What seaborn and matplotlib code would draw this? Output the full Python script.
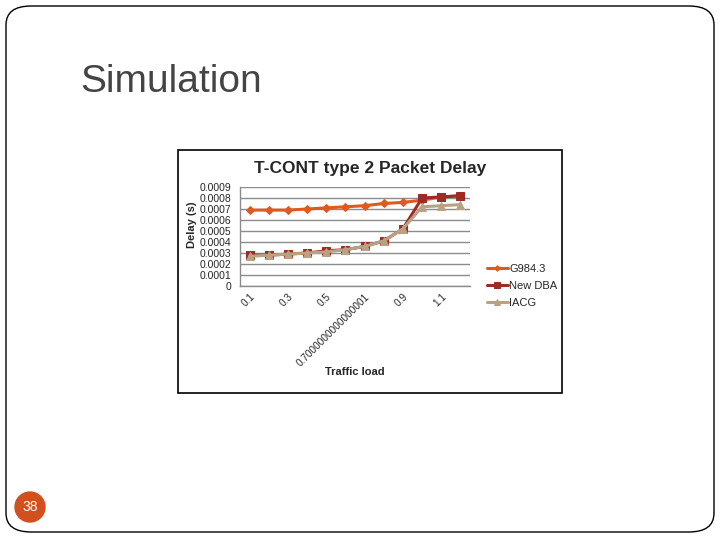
import numpy as np
import pandas as pd
import seaborn as sns
import matplotlib.pyplot as plt
from matplotlib.patches import FancyBboxPatch, Rectangle, Ellipse

# data
load_labels = ['0.1', '0.2', '0.3', '0.4', '0.5', '0.6', '0.7000000000000001',
               '0.8', '0.9', '1', '1.1', '1.2']
g984 = [0.00069, 0.00069, 0.00069, 0.00070, 0.00071, 0.00072, 0.00073,
        0.00075, 0.00076, 0.00078, 0.00081, 0.00082]
new_dba = [0.00028, 0.00028, 0.00029, 0.00030, 0.00032, 0.00033, 0.00036,
           0.00041, 0.00052, 0.00080, 0.00081, 0.00082]
iacg = [0.00027, 0.00028, 0.00029, 0.00030, 0.00031, 0.00033, 0.00036,
        0.00041, 0.00052, 0.00072, 0.00073, 0.00074]
series_names = ['G984.3', 'New DBA', 'IACG']
y_ticks = [0, 0.0001, 0.0002, 0.0003, 0.0004, 0.0005, 0.0006, 0.0007, 0.0008, 0.0009]

pos = np.arange(len(load_labels))
df = pd.DataFrame({
    'pos': np.tile(pos, 3),
    'delay': g984 + new_dba + iacg,
    'series': np.repeat(series_names, len(pos)),
})

sns.set_style('white')
plt.rcParams['font.family'] = ['Liberation Sans', 'DejaVu Sans']

fig = plt.figure(figsize=(7.2, 5.4), dpi=100)

# slide frame
fig.patches.append(FancyBboxPatch((6 / 720, 8 / 540), 708 / 720, 526 / 540,
                                  boxstyle='round,pad=0,rounding_size=0.035',
                                  transform=fig.transFigure, fill=False,
                                  ec='black', lw=1.0, zorder=-2))
fig.text(80 / 720, 1 - 82 / 540, 'Simulation', fontsize=28, color='#444444',
         va='center', ha='left')
fig.patches.append(Ellipse((30 / 720, 1 - 507 / 540), 30 / 720, 30 / 540,
                           transform=fig.transFigure, color='#D2501E', zorder=-1))
fig.text(30 / 720, 1 - 507 / 540, '38', color='white', fontsize=10,
         ha='center', va='center')

# chart box
fig.patches.append(Rectangle((178 / 720, 1 - 393 / 540), 384 / 720, 243 / 540,
                             transform=fig.transFigure, fill=True, fc='white',
                             ec='black', lw=1.2, zorder=-1))
fig.text(370 / 720, 1 - 168 / 540, 'T-CONT type 2 Packet Delay',
         fontsize=12.5, fontweight='bold', ha='center', va='center')

ax = fig.add_axes([240 / 720, 1 - 286 / 540, 230 / 720, 99 / 540])
ax.patch.set_alpha(0)
palette = {'G984.3': '#DE5A1F', 'New DBA': '#9E2B25', 'IACG': '#B9A283'}
markers = {'G984.3': 'D', 'New DBA': 's', 'IACG': '^'}
sizes = {'G984.3': 4, 'New DBA': 6, 'IACG': 6}
for name in series_names:
    sub = df[df['series'] == name]
    sns.lineplot(data=sub, x='pos', y='delay', ax=ax, color=palette[name],
                 marker=markers[name], markersize=sizes[name],
                 markeredgecolor=palette[name], lw=2.2, label=name)

ax.set_xlim(-0.5, len(pos) - 0.5)
ax.set_ylim(0, 0.0009)
ax.set_yticks(y_ticks)
ax.set_yticklabels(['0' if v == 0 else f'{v:.4f}' for v in y_ticks], fontsize=7.5)
ax.grid(axis='y', color='#8c8c8c', lw=1)
ax.set_axisbelow(True)
ax.set_xticks(pos[::2])
ax.set_xticklabels(load_labels[::2], rotation=45, ha='right',
                   rotation_mode='anchor', fontsize=7.2)
ax.set_xticks(np.arange(-0.5, len(pos)), minor=True)
ax.tick_params(axis='x', which='major', length=0, pad=4)
ax.tick_params(axis='x', which='minor', length=4, color='#8c8c8c', direction='out')
ax.tick_params(axis='y', length=4, color='#8c8c8c', direction='out', pad=2)
for s in ['top', 'right']:
    ax.spines[s].set_visible(False)
for s in ['left', 'bottom']:
    ax.spines[s].set_color('#8c8c8c')
    ax.spines[s].set_linewidth(1)
ax.set_xlabel('Traffic load', fontsize=8, fontweight='bold', labelpad=2)
ax.xaxis.set_label_coords(0.5, -0.82)
ax.set_ylabel('Delay (s)', fontsize=8, fontweight='bold')
ax.yaxis.set_label_coords(-0.185, 0.62)

ax.legend(loc='center left', bbox_to_anchor=(1.03, 0.0), frameon=False,
          fontsize=8, handlelength=1.9, handletextpad=0.1, labelspacing=0.65,
          markerscale=0.7)

fig.savefig('out.png', dpi=100)
